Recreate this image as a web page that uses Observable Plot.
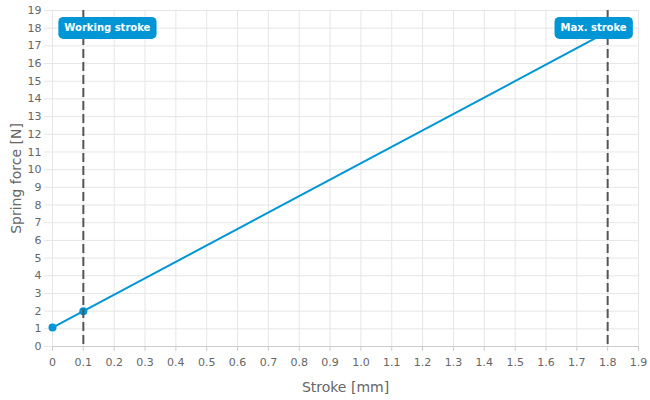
<!DOCTYPE html>
<html><head><meta charset="utf-8">
<script src="https://cdn.jsdelivr.net/npm/d3@7"></script>
<script src="https://cdn.jsdelivr.net/npm/@observablehq/plot@0.6"></script>
<style>body{margin:0;background:#fff}</style>
</head><body><div id="chart"></div>
<script>
const strokeMm = [0, 0.1, 1.8];
const forceN = [1.07, 2.0, 17.8];
const xTicks = [0,0.1,0.2,0.3,0.4,0.5,0.6,0.7,0.8,0.9,1.0,1.1,1.2,1.3,1.4,1.5,1.6,1.7,1.8,1.9];
const xTickLabels = ["0","0.1","0.2","0.3","0.4","0.5","0.6","0.7","0.8","0.9","1.0","1.1","1.2","1.3","1.4","1.5","1.6","1.7","1.8","1.9"];
const yTicks = [0,1,2,3,4,5,6,7,8,9,10,11,12,13,14,15,16,17,18,19];
const markerX = [0.1, 1.8];
const markerLabels = ["Working stroke", "Max. stroke"];
const markerLabelY = 18;
const xTitle = "Stroke [mm]";
const yTitle = "Spring force [N]";

const data = strokeMm.map((x, i) => ({x, y: forceN[i]}));
const labelMap = new Map(xTicks.map((t, i) => [t, xTickLabels[i]]));
const markers = markerX.map((x, i) => ({x, label: markerLabels[i], y: markerLabelY}));
const blue = "#0096d6";
const font = "'DejaVu Sans', sans-serif";

const plot = Plot.plot({
  width: 650, height: 400,
  marginLeft: 52, marginRight: 12, marginTop: 10, marginBottom: 54,
  style: {fontFamily: font, fontSize: "11px", color: "#666", background: "#fff"},
  x: {domain: [0, 1.9]},
  y: {domain: [0, 19]},
  marks: [
    Plot.gridX(xTicks, {stroke: "#e6e6e6", strokeOpacity: 1}),
    Plot.gridY(yTicks, {stroke: "#e6e6e6", strokeOpacity: 1}),
    Plot.axisX(xTicks, {tickFormat: d => labelMap.get(d), tickSize: 5, tickPadding: 7, stroke: "#ccc", fill: "#666", label: null}),
    Plot.axisY(yTicks, {tickSize: 8, tickPadding: 3, stroke: "#e6e6e6", fill: "#666", label: null}),
    Plot.ruleY([0], {stroke: "#ccc"}),
    Plot.line(data, {x: "x", y: "y", stroke: blue, strokeWidth: 2}),
    Plot.dot(data, {x: "x", y: "y", r: 4, fill: blue}),
    Plot.ruleX(markerX, {stroke: "#555", strokeWidth: 2, strokeDasharray: "9,4"}),
    Plot.text([markers[0]], {x: "x", y: "y", text: "label", textAnchor: "start", dx: -19, fill: "#fff", fontWeight: "bold", fontSize: 10, fontFamily: font, className: "mlabel"}),
    Plot.text([markers[1]], {x: "x", y: "y", text: "label", textAnchor: "end", dx: 19, fill: "#fff", fontWeight: "bold", fontSize: 10, fontFamily: font, className: "mlabel"}),
    Plot.text([xTitle], {frameAnchor: "bottom", lineAnchor: "middle", textAnchor: "middle", dy: 41, fontSize: 14, fill: "#666"}),
    Plot.text([yTitle], {frameAnchor: "left", lineAnchor: "middle", textAnchor: "middle", rotate: -90, dx: -36, fontSize: 14, fill: "#666"})
  ]
});
document.getElementById("chart").appendChild(plot);

// rounded boxes behind the marker labels, sized from the text's own bbox
plot.querySelectorAll("g.mlabel text").forEach(t => {
  const b = t.getBBox();
  const g = t.parentNode;
  const r = document.createElementNS("http://www.w3.org/2000/svg", "rect");
  const cy = b.y + b.height / 2;
  r.setAttribute("x", b.x - 6);
  r.setAttribute("y", cy - 11);
  r.setAttribute("width", b.width + 12);
  r.setAttribute("height", 22);
  r.setAttribute("rx", 5);
  r.setAttribute("fill", blue);
  if (t.getAttribute("transform")) r.setAttribute("transform", t.getAttribute("transform"));
  g.insertBefore(r, t);
});
</script>
</body></html>
